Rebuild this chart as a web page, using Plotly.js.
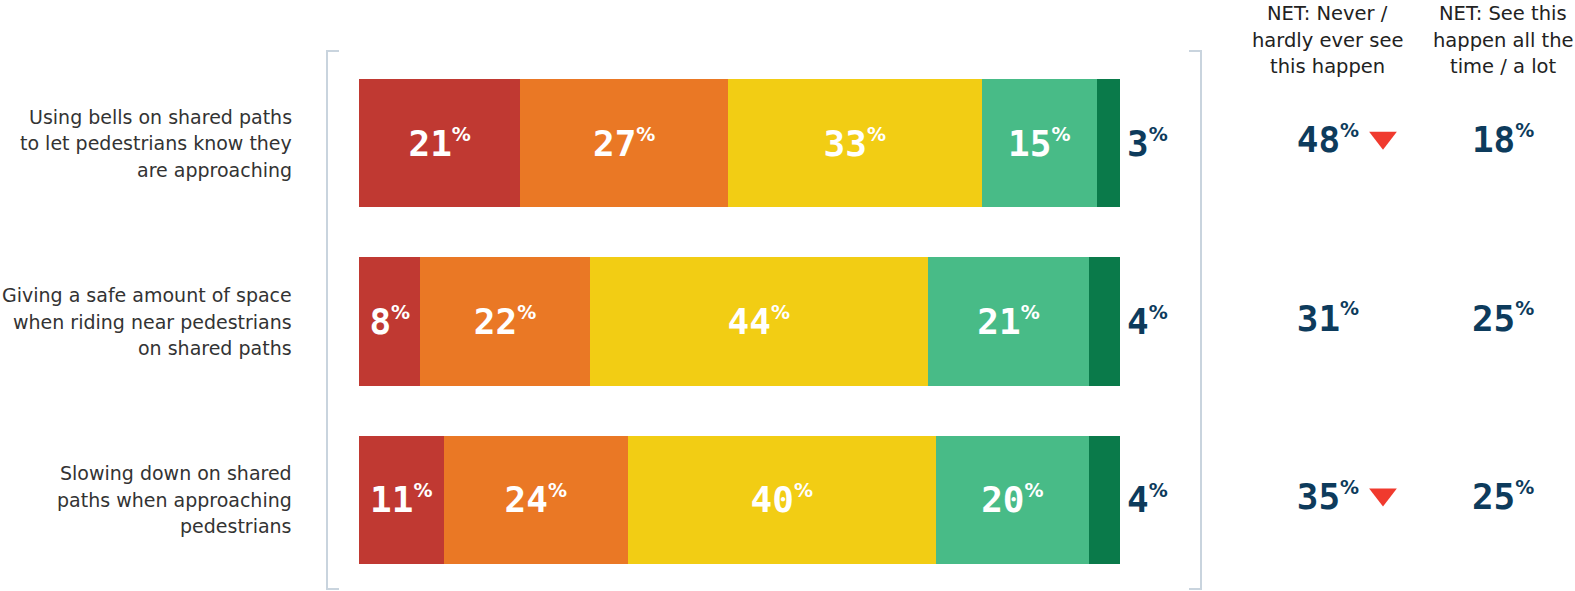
<!DOCTYPE html>
<html>
<head>
<meta charset="utf-8">
<script src="https://cdn.plot.ly/plotly-3.0.1.min.js"></script>
<style>html,body{margin:0;padding:0;background:#fff;}#chart{width:1575px;height:591px;}</style>
</head>
<body>
<div id="chart"></div>
<script>
// ---- data ----
const categories = [
  "Using bells on shared paths<br>to let pedestrians know they<br>are approaching",
  "Giving a safe amount of space<br>when riding near pedestrians<br>on shared paths",
  "Slowing down on shared<br>paths when approaching<br>pedestrians"
];
const seriesNames = ["Never", "Hardly ever", "Sometimes", "A lot", "All the time"];
const never      = [21, 8, 11];
const hardlyEver = [27, 22, 24];
const sometimes  = [33, 44, 40];
const aLot       = [15, 21, 20];
const allTime    = [3, 4, 4];
const netNever   = [48, 31, 35];
const netLot     = [18, 25, 25];
const netNeverDown = [true, false, true];
const headerNever = ["NET: Never /", "hardly ever see", "this happen"];
const headerLot   = ["NET: See this", "happen all the", "time / a lot"];

// ---- styles ----
const colors = ["#C03932", "#EA7825", "#F2CD14", "#48BB87", "#0A7A4A"];
const NAVY = "#0D3B5C";
const NUMFONT = "'DejaVu Sans Mono', monospace";
const FONT = "'DejaVu Sans', sans-serif";
const NUMSIZE = 36;
const W = 1575, H = 591;
const plotLeft = 359, plotRight = 1120, plotTop = 54, plotBottom = 589;
const rows = categories.map((_, i) => i);
const pct = v => v + '<sup><span style="font-family:DejaVu Sans;font-size:19px">%</span></sup>';

const seriesVals = [never, hardlyEver, sometimes, aLot, allTime];
const traces = seriesVals.map((vals, k) => {
  const last = k === seriesVals.length - 1;
  return {
    type: "bar", orientation: "h", name: seriesNames[k],
    x: vals, y: rows, width: 0.718,
    marker: {color: colors[k], line: {width: 0}},
    text: vals.map(pct),
    textposition: last ? "none" : "inside",
    insidetextanchor: "middle",
    textangle: 0,
    constraintext: "none",
    cliponaxis: false,
    textfont: {family: NUMFONT, size: NUMSIZE, weight: 700, color: "#ffffff"},
    hoverinfo: "skip"
  };
});

// right-hand NET columns
const COL1 = 0.457, COL2 = 0.842, TRI = 0.578;
[[netNever, COL1], [netLot, COL2]].forEach(([vals, xc]) => {
  traces.push({
    type: "scatter", mode: "text", xaxis: "x2", yaxis: "y",
    x: rows.map(() => xc), y: rows, text: vals.map(pct),
    textposition: "middle center", cliponaxis: false,
    textfont: {family: NUMFONT, size: NUMSIZE, weight: 700, color: NAVY}, hoverinfo: "skip"
  });
});
const downRows = rows.filter(i => netNeverDown[i]);
traces.push({
  type: "scatter", mode: "markers", xaxis: "x2", yaxis: "y",
  x: downRows.map(() => TRI), y: downRows.map(i => i - 0.03),
  marker: {symbol: "triangle-down", size: 24, color: "#F03A2E", line: {width: 0}},
  cliponaxis: false, hoverinfo: "skip"
});

// annotations
const annotations = [];
// label for the last (thin) segment, just right of the bar end
rows.forEach(i => {
  const total = seriesVals.reduce((s, v) => s + v[i], 0);
  annotations.push({
    xref: "x", yref: "y", x: total, y: i, xanchor: "left", yanchor: "middle",
    xshift: 5, showarrow: false, text: pct(allTime[i]),
    font: {family: NUMFONT, size: NUMSIZE, weight: 700, color: NAVY}
  });
});
const LINE = 26.5;
categories.forEach((c, i) => {
  const lines = c.split("<br>");
  lines.forEach((ln, j) => {
    annotations.push({
      xref: "paper", yref: "y", x: 294 / W, y: i, xanchor: "right", yanchor: "middle",
      yshift: -(j - (lines.length - 1) / 2) * LINE,
      text: ln, showarrow: false,
      font: {family: FONT, size: 19, color: "#333333"}
    });
  });
});
const pyToPaper = py => (plotBottom - py) / (plotBottom - plotTop);
[[headerNever, COL1], [headerLot, COL2]].forEach(([lines, xc]) => {
  lines.forEach((ln, j) => {
    annotations.push({
      xref: "x2", yref: "paper", x: xc, y: pyToPaper(14 + j * LINE),
      xanchor: "center", yanchor: "middle",
      text: ln, showarrow: false,
      font: {family: FONT, size: 19.5, color: "#222222"}
    });
  });
});

// bracket
const BR = "#C9D4DE";
const px = x => x / W;
const yTop = pyToPaper(51), yBot = 0;
const shapes = [
  {type: "line", xref: "paper", yref: "paper", x0: px(327), x1: px(327), y0: yBot, y1: yTop, line: {color: BR, width: 2}},
  {type: "line", xref: "paper", yref: "paper", x0: px(326), x1: px(339), y0: yTop, y1: yTop, line: {color: BR, width: 2}},
  {type: "line", xref: "paper", yref: "paper", x0: px(326), x1: px(339), y0: yBot, y1: yBot, line: {color: BR, width: 2}},
  {type: "line", xref: "paper", yref: "paper", x0: px(1201), x1: px(1201), y0: yBot, y1: yTop, line: {color: BR, width: 2}},
  {type: "line", xref: "paper", yref: "paper", x0: px(1189), x1: px(1202), y0: yTop, y1: yTop, line: {color: BR, width: 2}},
  {type: "line", xref: "paper", yref: "paper", x0: px(1189), x1: px(1202), y0: yBot, y1: yBot, line: {color: BR, width: 2}}
];

const layout = {
  width: W, height: H,
  margin: {l: 0, r: 0, t: plotTop, b: H - plotBottom, pad: 0},
  paper_bgcolor: "#ffffff", plot_bgcolor: "rgba(0,0,0,0)",
  barmode: "stack", showlegend: false,
  xaxis: {domain: [plotLeft / W, plotRight / W], range: [0, 99], showgrid: false, zeroline: false, showticklabels: false, showline: false, fixedrange: true},
  xaxis2: {domain: [plotRight / W, 1], range: [0, 1], anchor: "y", showgrid: false, zeroline: false, showticklabels: false, showline: false, fixedrange: true},
  yaxis: {range: [2.5, -0.5], showgrid: false, zeroline: false, showticklabels: false, showline: false, fixedrange: true},
  annotations: annotations,
  shapes: shapes,
  font: {family: FONT}
};

Plotly.newPlot("chart", traces, layout, {displayModeBar: false, staticPlot: true});
</script>
</body>
</html>
